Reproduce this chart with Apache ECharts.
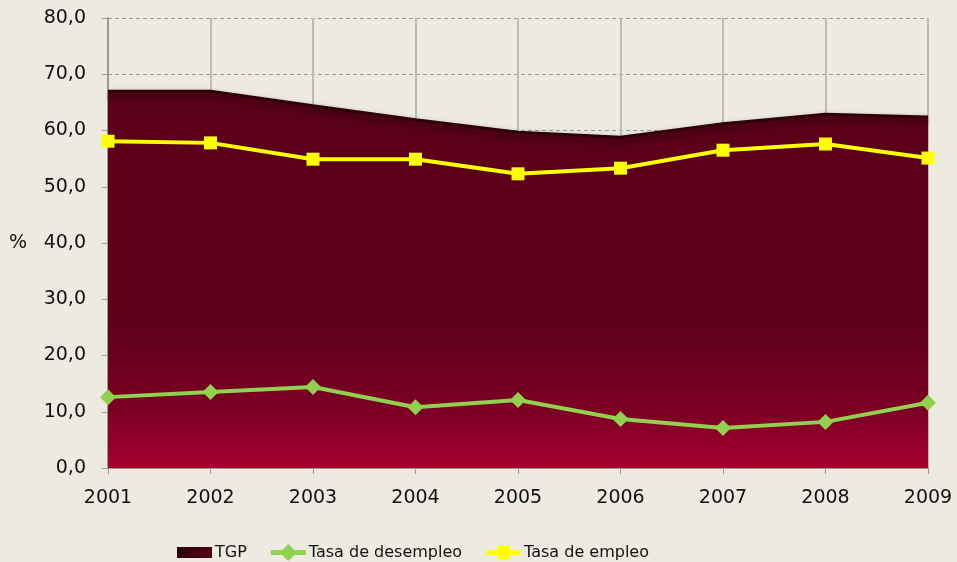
<!DOCTYPE html>
<html><head><meta charset="utf-8">
<script src="https://cdn.jsdelivr.net/npm/echarts@6/dist/echarts.min.js"></script>
<style>html,body{margin:0;padding:0;background:#EDEBE1;}#c{width:957px;height:562px;}</style>
</head><body><div id="c"></div>
<script>
const years = ['2001','2002','2003','2004','2005','2006','2007','2008','2009'];
const tgp = [67.0, 67.0, 64.4, 61.9, 59.7, 58.8, 61.2, 62.9, 62.4];
const desempleo = [12.6, 13.5, 14.4, 10.8, 12.1, 8.7, 7.1, 8.2, 11.6];
const empleo = [58.1, 57.8, 54.9, 54.9, 52.3, 53.3, 56.5, 57.6, 55.1];
const yTicks = [0, 10, 20, 30, 40, 50, 60, 70, 80];

// legend icons (35x17 box, moveTo points fix the bounding box)
const iconRect = 'path://M0,0 M35,17 M0,3 L35,3 L35,14 L0,14 Z';
const iconDiamond = 'path://M0,0 M35,17 M0,6 L35,6 L35,11 L0,11 Z M17.5,0 L26,8.5 L17.5,17 L9,8.5 Z';
const iconSquare = 'path://M0,0 M35,17 M0,6 L35,6 L35,11 L0,11 Z M11.5,2 L23.5,2 L23.5,15 L11.5,15 Z';

const chart = echarts.init(document.getElementById('c'), null, {renderer: 'canvas'});
const font = 'DejaVu Sans';
chart.setOption({
  backgroundColor: '#EDEBE1',
  animation: false,
  textStyle: {fontFamily: font},
  grid: {left: 108, right: 29, top: 18, bottom: 94},
  legend: {
    bottom: -4, left: 172, itemGap: 24, itemWidth: 35, itemHeight: 17,
    itemStyle: {borderWidth: 0},
    textStyle: {fontFamily: font, fontSize: 16, color: '#111', padding: [0, 0, 0, -2]},
    data: [
      {name: 'TGP', icon: iconRect},
      {name: 'Tasa de desempleo', icon: iconDiamond},
      {name: 'Tasa de empleo', icon: iconSquare}
    ]
  },
  xAxis: {
    type: 'category', data: years, boundaryGap: false,
    axisLine: {lineStyle: {color: '#999', width: 2}},
    axisTick: {show: true, length: 6, lineStyle: {color: '#999'}},
    axisLabel: {fontFamily: font, fontSize: 19, color: '#111', margin: 21},
    splitLine: {show: true, lineStyle: {color: '#bbb', width: 2}}
  },
  yAxis: {
    type: 'value', min: yTicks[0], max: yTicks[yTicks.length-1], interval: 10,
    name: '%', nameLocation: 'middle', nameRotate: 0, nameGap: 81,
    nameTextStyle: {fontFamily: font, fontSize: 19, color: '#111'},
    axisLine: {show: true, lineStyle: {color: '#999', width: 2}},
    axisTick: {show: true, length: 6, lineStyle: {color: '#999'}},
    axisLabel: {fontFamily: font, fontSize: 19, color: '#111', margin: 22,
      formatter: v => v.toFixed(1).replace('.', ',')},
    splitLine: {show: true, lineStyle: {color: '#999', type: [4, 3], width: 1}}
  },
  series: [
    {
      name: 'TGP', type: 'line', data: tgp, symbol: 'none', z: 1,
      itemStyle: {color: new echarts.graphic.LinearGradient(0, 0, 1, 1, [
        {offset: 0, color: '#2a0008'}, {offset: 1, color: '#5a0018'}])},
      lineStyle: {color: '#2e0008', width: 3, shadowColor: 'rgba(40,0,10,0.8)', shadowBlur: 6, shadowOffsetY: 4},
      areaStyle: {opacity: 1, color: new echarts.graphic.LinearGradient(0, 0, 0, 1, [
        {offset: 0, color: '#5a0018'},
        {offset: 0.6, color: '#5e001a'},
        {offset: 0.85, color: '#7c0024'},
        {offset: 1, color: '#a4002f'}])}
    },
    {
      name: 'Tasa de desempleo', type: 'line', data: desempleo, z: 3,
      symbol: 'diamond', symbolSize: 16,
      itemStyle: {color: '#92D050'},
      lineStyle: {color: '#92D050', width: 4}
    },
    {
      name: 'Tasa de empleo', type: 'line', data: empleo, z: 3,
      symbol: 'rect', symbolSize: 13,
      itemStyle: {color: '#FFFF00'},
      lineStyle: {color: '#FFFF00', width: 4}
    }
  ]
});
</script></body></html>
